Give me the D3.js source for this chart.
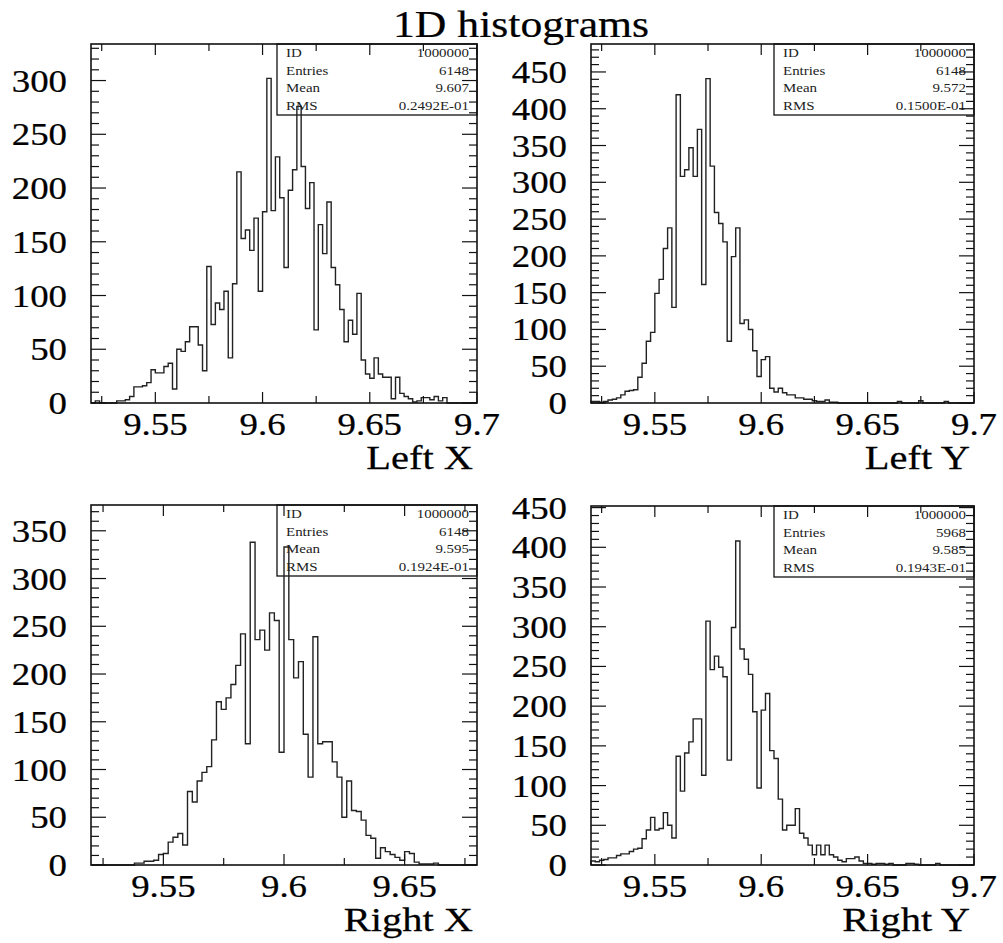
<!DOCTYPE html>
<html><head><meta charset="utf-8">
<script src="https://cdn.jsdelivr.net/npm/d3@7"></script>
<style>body{margin:0;background:#fff}svg{display:block}</style>
</head><body>
<script>
// ---------------- data ----------------
const chartTitle = "1D histograms";
const panelTitles = ["Left X", "Left Y", "Right X", "Right Y"];
const binStart = 9.52;
const binWidth = 0.002;
const xRanges = [[9.52, 9.70], [9.52, 9.70], [9.52, 9.68], [9.52, 9.70]];
const yMaxes = [334, 488, 377, 452];

const leftXCounts = [0,2,0,0,0,0,2,2,3,6, 15,15,16,19,31,28,28,34,37,13,
  50,48,57,71,71,54,30,127,73,93, 87,104,42,111,215,153,161,142,172,104,
  178,302,179,229,191,126,198,217,276,220, 181,205,68,166,139,187,126,110,87,57,
  77,64,102,40,27,23,42,27,24,24, 4,24,9,6,4,1,2,5,5,3,
  6,2,5,0,0,0,0,0,0,0];
const leftYCounts = [2,2,1,2,4,5,7,11,16,17, 18,35,54,84,96,149,168,210,238,130,
  419,308,317,347,308,372,161,441,322,259, 244,219,84,199,238,108,113,100,71,36,
  59,63,20,15,20,14,11,11,7,7, 5,5,3,2,2,4,1,1,0,0,
  0,0,0,0,0,0,0,0,0,0, 0,0,2,0,0,0,0,3,0,0, 0,0,0,2,0,0,0,0,0,0];
const rightXCounts = [0,0,0,0,0,0,0,0,0,2, 2,4,4,5,11,12,24,29,33,21,
  77,66,88,97,103,131,171,163,175,189, 209,242,127,338,236,246,225,264,256,118,
  333,236,196,213,137,92,239,127,129,129, 108,92,50,88,57,56,47,31,28,7,
  18,14,11,8,5,14,12,3,1,1, 1,2,0,0,0,0,0,0,0,0];
const rightYCounts = [5,4,6,7,9,9,12,14,14,17, 20,21,33,44,60,44,46,66,50,34,
  137,93,141,155,184,184,113,307,246,263, 249,237,132,299,408,272,259,240,193,97,
  195,216,144,134,83,44,50,50,71,40, 34,25,13,25,13,25,13,10,6,4,
  8,8,10,5,2,2,1,2,2,1, 2,0,0,0,2,2,1,0,0,0, 0,2,0,0,0,0,0,0,0,0];
const allCounts = [leftXCounts, leftYCounts, rightXCounts, rightYCounts];

const xTickLabels = [[9.55, 9.6, 9.65, 9.7], [9.55, 9.6, 9.65, 9.7], [9.55, 9.6, 9.65], [9.55, 9.6, 9.65, 9.7]];
const yTickLabels = [
  [0, 50, 100, 150, 200, 250, 300],
  [0, 50, 100, 150, 200, 250, 300, 350, 400, 450],
  [0, 50, 100, 150, 200, 250, 300, 350],
  [0, 50, 100, 150, 200, 250, 300, 350, 400, 450]];

const statNames = ["ID", "Entries", "Mean", "RMS"];
const statValues = [
  ["1000000", "6148", "9.607", "0.2492E-01"],
  ["1000000", "6148", "9.572", "0.1500E-01"],
  ["1000000", "6148", "9.595", "0.1924E-01"],
  ["1000000", "5968", "9.585", "0.1943E-01"]];

// ---------------- layout ----------------
const W = 1003, H = 943;
const frames = [
  {x0: 91, x1: 477, y0: 44, y1: 403},
  {x0: 591, x1: 974, y0: 44, y1: 403},
  {x0: 91, x1: 477, y0: 505, y1: 865},
  {x0: 591, x1: 974, y0: 506, y1: 865}];
const SX = 1.15;           // horizontal stretch of the original raster text
const FONT = "'Liberation Serif','Times New Roman',Times,serif";

const svg = d3.select("body").append("svg").attr("width", W).attr("height", H)
  .style("background", "#fff");

function stext(g, x, y, str, size, anchor, sx) {
  return g.append("text")
    .attr("transform", `translate(${x},${y}) scale(${sx || SX},1)`)
    .attr("text-anchor", anchor)
    .attr("font-family", FONT)
    .attr("font-size", size)
    .attr("fill", "#000")
    .attr("stroke", "#000").attr("stroke-width", 0.25)
    .text(str);
}

stext(svg, 521, 37, chartTitle, 38, "middle");

frames.forEach((f, p) => {
  const g = svg.append("g");
  const x = d3.scaleLinear().domain(xRanges[p]).range([f.x0, f.x1]);
  const y = d3.scaleLinear().domain([0, yMaxes[p]]).range([f.y1, f.y0]);
  const counts = allCounts[p];

  // stats box (drawn first, unfilled)
  const bx0 = f.x1 - 200, bh = 71;
  g.append("rect").attr("x", bx0).attr("y", f.y0).attr("width", f.x1 - bx0).attr("height", bh)
    .attr("fill", "none").attr("stroke", "#111").attr("stroke-width", 1.3);
  statNames.forEach((s, i) => {
    const by = f.y0 + 13 + i * 17.7;
    stext(g, bx0 + 9, by, s, 13, "start").attr("fill", "#222").attr("stroke", "none");
    stext(g, f.x1 - 8, by, statValues[p][i], 13, "end").attr("fill", "#222").attr("stroke", "none");
  });

  // histogram outline
  const pts = [[x(binStart), y(0)]];
  counts.forEach((c, i) => {
    const a = binStart + i * binWidth, b = a + binWidth;
    pts.push([x(a), y(c)], [x(b), y(c)]);
  });
  pts.push([x(binStart + counts.length * binWidth), y(0)]);
  g.append("path").attr("d", d3.line()(pts))
    .attr("fill", "none").attr("stroke", "#222").attr("stroke-width", 1.4)
    .attr("stroke-linejoin", "miter");

  // x ticks every 0.025, top and bottom, pointing inward
  const [lo, hi] = xRanges[p];
  const xt = d3.range(Math.ceil(lo / 0.025 - 1e-6), Math.floor(hi / 0.025 + 1e-6) + 1).map(k => +(k * 0.025).toFixed(4));
  xt.forEach(v => {
    const major = Math.abs(Math.round(v / 0.05) * 0.05 - v) < 1e-6;
    const len = major ? 11 : 7;
    g.append("line").attr("x1", x(v)).attr("x2", x(v)).attr("y1", f.y1).attr("y2", f.y1 - len)
      .attr("stroke", "#111").attr("stroke-width", 1.2);
    g.append("line").attr("x1", x(v)).attr("x2", x(v)).attr("y1", f.y0).attr("y2", f.y0 + len)
      .attr("stroke", "#111").attr("stroke-width", 1.2);
  });

  // y ticks every 10, major every 50, left and right
  d3.range(0, yMaxes[p] + 0.001, 10).forEach(v => {
    const major = v % 50 === 0;
    const len = major ? 15 : 8;
    g.append("line").attr("x1", f.x0).attr("x2", f.x0 + len).attr("y1", y(v)).attr("y2", y(v))
      .attr("stroke", "#111").attr("stroke-width", 1.2);
    g.append("line").attr("x1", f.x1).attr("x2", f.x1 - len).attr("y1", y(v)).attr("y2", y(v))
      .attr("stroke", "#111").attr("stroke-width", 1.2);
  });

  // frame
  g.append("rect").attr("x", f.x0).attr("y", f.y0).attr("width", f.x1 - f.x0).attr("height", f.y1 - f.y0)
    .attr("fill", "none").attr("stroke", "#111").attr("stroke-width", 1.6);

  // labels
  xTickLabels[p].forEach(v => stext(g, x(v), f.y1 + 32, String(v), 32, "middle"));
  yTickLabels[p].forEach(v => stext(g, f.x0 - 24, y(v) + 11, String(v), 32, "end"));
  stext(g, f.x1 - 4, f.y1 + 66, panelTitles[p], 34, "end", 1.19);
});
</script>
</body></html>
